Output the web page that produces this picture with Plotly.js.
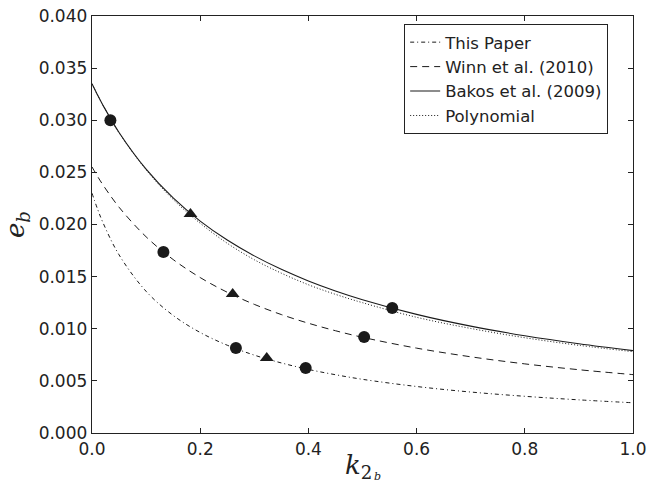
<!DOCTYPE html>
<html>
<head>
<meta charset="utf-8">
<script src="https://cdn.plot.ly/plotly-3.0.1.min.js"></script>
<style>html,body{margin:0;padding:0;background:#fff;}#chart{width:651px;height:485px;}</style>
</head>
<body>
<div id="chart"></div>
<script>
// k2b grid
var kGrid = [0, 0.01, 0.02, 0.05, 0.1, 0.15, 0.2, 0.25, 0.3, 0.35, 0.4, 0.45, 0.5, 0.6, 0.7, 0.8, 0.9, 1.0];
var thisPaper = [0.02300, 0.02152, 0.02021, 0.01709, 0.01359, 0.01128, 0.00964, 0.00842, 0.00747, 0.00672, 0.00610, 0.00559, 0.00515, 0.00446, 0.00393, 0.00352, 0.00318, 0.00290];
var winn = [0.02552, 0.02464, 0.02382, 0.02166, 0.01882, 0.01664, 0.01491, 0.01350, 0.01234, 0.01136, 0.01053, 0.00981, 0.00918, 0.00814, 0.00731, 0.00663, 0.00607, 0.00560];
var bakos = [0.03350, 0.03245, 0.03147, 0.02883, 0.02531, 0.02255, 0.02033, 0.01851, 0.01699, 0.01570, 0.01459, 0.01363, 0.01279, 0.01138, 0.01025, 0.00933, 0.00856, 0.00790];
var polynomial = [0.03350, 0.03245, 0.03147, 0.02880, 0.02525, 0.02240, 0.02012, 0.01820, 0.01662, 0.01533, 0.01422, 0.01330, 0.01250, 0.01110, 0.01003, 0.00914, 0.00841, 0.00780];
var circleX = [0.034, 0.132, 0.555, 0.503, 0.266, 0.395];
var circleY = [0.0300, 0.01736, 0.0120, 0.00921, 0.00815, 0.00623];
var triX = [0.182, 0.260, 0.323];
var triY = [0.0210, 0.01333, 0.0072];
var xTicks = [0, 0.2, 0.4, 0.6, 0.8, 1.0];
var yTicks = [0, 0.005, 0.01, 0.015, 0.02, 0.025, 0.03, 0.035, 0.04];

var ink = '#1a1a1a';
var traces = [
  {x: kGrid, y: thisPaper, mode: 'lines', name: 'This Paper', line: {color: ink, width: 1, dash: '4px,3px,1px,3px', shape: 'spline'}},
  {x: kGrid, y: winn, mode: 'lines', name: 'Winn et al. (2010)', line: {color: ink, width: 1, dash: '7px,5px', shape: 'spline'}},
  {x: kGrid, y: bakos, mode: 'lines', name: 'Bakos et al. (2009)', line: {color: ink, width: 1.1, shape: 'spline'}},
  {x: kGrid, y: polynomial, mode: 'lines', name: 'Polynomial', line: {color: ink, width: 1, dash: '1px,2px', shape: 'spline'}},
  {x: circleX, y: circleY, mode: 'markers', showlegend: false, marker: {symbol: 'circle', size: 12, color: ink}},
  {x: triX, y: triY, mode: 'markers', showlegend: false, marker: {symbol: 'triangle-up', size: 12, color: ink}}
];

var axisCommon = {
  showgrid: false, zeroline: false, showline: true, linecolor: '#222', linewidth: 1.3,
  mirror: 'allticks', ticks: 'inside', ticklen: 5, tickwidth: 1, tickcolor: '#222',
  tickfont: {family: 'DejaVu Sans', size: 17, color: '#222'}
};

var layout = {
  width: 651, height: 485,
  margin: {l: 92, r: 18, t: 16, b: 52},
  paper_bgcolor: '#fff', plot_bgcolor: '#fff',
  xaxis: Object.assign({}, axisCommon, {range: [0, 1], tickvals: xTicks, tickformat: '.1f'}),
  yaxis: Object.assign({}, axisCommon, {range: [0, 0.04], tickvals: yTicks, tickformat: '.3f',
    title: {text: '<i>e</i><sub><i>b</i></sub>', font: {family: 'DejaVu Serif', size: 26, color: '#222'}, standoff: 6}}),
  legend: {x: 0.577, y: 0.981, xanchor: 'left', yanchor: 'top', bgcolor: '#fff', bordercolor: '#222', borderwidth: 1,
    font: {family: 'DejaVu Sans', size: 16.5, color: '#222'}, tracegroupgap: 0},
  annotations: [
    {xref: 'paper', yref: 'paper', x: 0.493, y: -0.081, xanchor: 'center', yanchor: 'middle', showarrow: false,
     text: '<i>k</i><sub>2</sub>', font: {family: 'DejaVu Serif', size: 26, color: '#222'}},
    {xref: 'paper', yref: 'paper', x: 0.517, y: -0.104, xanchor: 'left', yanchor: 'middle', showarrow: false,
     text: '<i>b</i>', font: {family: 'DejaVu Serif', size: 11, color: '#222'}}
  ],
  showlegend: true
};

Plotly.newPlot('chart', traces, layout, {staticPlot: true, displayModeBar: false});
</script>
</body>
</html>
